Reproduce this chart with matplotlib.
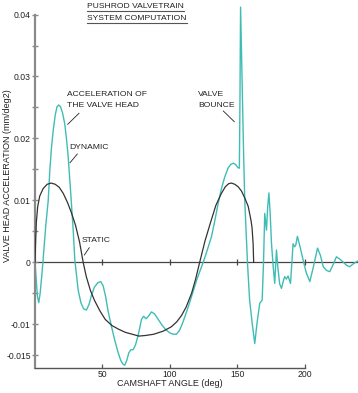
import matplotlib
matplotlib.use("Agg")
import matplotlib.pyplot as plt
from matplotlib.lines import Line2D

plt.rcParams["font.family"] = ["Liberation Sans", "DejaVu Sans"]

# static (kinematic) valve acceleration
static_deg = [0, 0.4, 1.0, 2, 3.5, 6, 9, 12, 15, 18, 21, 24, 27, 30, 33, 35.7,
              38, 41, 44, 48, 52, 57, 62, 67, 72, 77, 82, 88, 95, 101, 105,
              108.5, 112, 116, 119, 122, 126, 130, 134, 138, 141, 143.5, 145.6,
              148, 150.5, 153, 155.4, 158, 160, 160.8, 161.6, 162]
static_acc = [0, 0.003, 0.0065, 0.009, 0.0107, 0.0119, 0.0126, 0.0128, 0.0126,
              0.0121, 0.0111, 0.0097, 0.008, 0.006, 0.0033, 0.0, -0.0023,
              -0.0045, -0.0061, -0.0078, -0.0092, -0.0102, -0.0108, -0.0113,
              -0.0116, -0.0119, -0.0118, -0.0116, -0.0111, -0.0104, -0.0096,
              -0.0086, -0.0072, -0.005, -0.0027, 0.0, 0.0035, 0.0064, 0.0092,
              0.0111, 0.0122, 0.0127, 0.0128, 0.0126, 0.0122, 0.0115, 0.0104,
              0.009, 0.0068, 0.0056, 0.003, 0.0]

# dynamic valve acceleration
dyn_deg = [0, 0.8, 1.8, 2.8, 3.8, 5, 6, 7, 8, 9, 9.8, 11, 12.2, 13.5, 15, 16.3,
           17.6, 18.9, 20.3, 22, 23.3, 24.6, 26.3, 28.3, 29.5, 32, 34, 36, 38.1,
           40, 42, 44, 46.5, 48.7, 50.5, 52.3, 54, 56.5, 59, 61.5, 63.5, 65,
           66.5, 68, 69.5, 71, 72.7, 74.5, 76.4, 78.9, 80.5, 82.3, 84, 86.3,
           88.5, 91, 94, 97, 100, 102.5, 104.8, 107, 109, 111, 113.5, 116, 120,
           124.6, 127.5, 130.7, 133, 135.7, 138, 140.6, 143, 145, 146.8, 148.6,
           150.3, 151.4, 151.8, 152.3, 152.8, 153.5, 154.5, 155.4, 157.4, 159,
           161, 162.8, 164.5, 166.5, 168.3, 169.3, 170.2, 171.5, 172.4, 173.3,
           174.2, 175.2, 176.4, 177.6, 178.9, 180, 181.3, 182.6, 184, 185,
           186.2, 187.5, 189.3, 191.2, 192.3, 193.2, 194.4, 196.5, 198.6, 201,
           203.6, 206.5, 209.3, 211.5, 213.5, 216, 218.4, 221, 223.3, 226,
           228.5, 231, 233.2, 236, 239]
dyn_acc = [0.0, -0.0025, -0.0055, -0.0065, -0.005, -0.0022, 0.0004, 0.0033,
           0.006, 0.0082, 0.01, 0.0149, 0.0185, 0.0213, 0.0238, 0.0251, 0.0254,
           0.0251, 0.0242, 0.0224, 0.02, 0.017, 0.0117, 0.0052, 0.0004,
           -0.0045, -0.0065, -0.0075, -0.0077, -0.0068, -0.0052, -0.004,
           -0.0033, -0.0031, -0.0038, -0.0055, -0.0077, -0.0102, -0.0125,
           -0.0145, -0.0158, -0.0164, -0.0166, -0.0158, -0.0146, -0.0141,
           -0.0141, -0.0133, -0.0118, -0.0092, -0.0087, -0.0091, -0.0087,
           -0.008, -0.0083, -0.0091, -0.0101, -0.0109, -0.0114, -0.0116,
           -0.0116, -0.011, -0.01, -0.0088, -0.0072, -0.0055, -0.0027, 0.0,
           0.0019, 0.0041, 0.0065, 0.0095, 0.0118, 0.0138, 0.0152, 0.0158,
           0.016, 0.0158, 0.0153, 0.0152, 0.025, 0.0412, 0.036, 0.028, 0.018,
           0.01, 0.0, -0.0061, -0.01, -0.0131, -0.0098, -0.0066, -0.0061, 0.0,
           0.0079, 0.0052, 0.009, 0.0112, 0.008, 0.0031, -0.0005, -0.0034,
           0.002, -0.001, -0.0035, -0.0042, -0.003, -0.0023, -0.0027, -0.0022,
           -0.0034, 0.003, 0.0025, 0.0028, 0.0042, 0.0024, 0.0004, -0.0017,
           -0.0031, -0.0005, 0.0023, 0.0011, -0.0007, -0.0013, -0.0015,
           -0.0003, 0.0009, 0.0005, 0.0, -0.0005, -0.0007, -0.0002, 0.0002]

x_ticks = [50, 100, 150, 200]
y_ticks = [0.04, 0.035, 0.03, 0.025, 0.02, 0.015, 0.01, 0.005, 0, -0.005, -0.01, -0.015]
y_tick_labels = ["0.04", "", "0.03", "", "0.02", "", "0.01", "", "0", "", "-0.01", "-0.015"]

W, H = 358, 393
TEAL = "#3fbdb5"
DARK = "#222222"
GREY = "#8a8a8a"

fig = plt.figure(figsize=(W / 100, H / 100), dpi=100)
ax = fig.add_axes([35 / W, 1 - 368.3 / H, 322.6 / W, 367.4 / H])
ax.set_xlim(0, 239)
ax.set_ylim(-0.0171, 0.0422)
ax.patch.set_alpha(0)

# zero line with small ticks
ax.axhline(0, color="#444444", lw=0.9, zorder=1)
ax.plot(x_ticks, [0] * len(x_ticks), "|", color="#444444", ms=4, mew=0.9)

ax.plot(static_deg, static_acc, color="#333333", lw=0.9, zorder=3)
ax.plot(dyn_deg, dyn_acc, color=TEAL, lw=1.0, zorder=2)

for s in ["top", "right"]:
    ax.spines[s].set_visible(False)
ax.spines["left"].set_color(GREY)
ax.spines["left"].set_linewidth(1.6)
ax.spines["left"].set_bounds(-0.0171, 0.04)
ax.spines["bottom"].set_color("#555555")
ax.spines["bottom"].set_linewidth(1.0)
ax.spines["bottom"].set_bounds(0, 200)

ax.set_yticks(y_ticks)
ax.set_yticklabels(y_tick_labels)
ax.set_xticks(x_ticks)
ax.tick_params(axis="y", direction="inout", length=5, width=1, color=GREY,
               labelsize=6.2, labelcolor=DARK, pad=0.5)
ax.tick_params(axis="x", direction="in", length=3, width=0.9, color="#555555",
               labelsize=6.2, labelcolor=DARK, pad=1.5)


def px(x, y):
    return x / W, 1 - y / H


txt = dict(fontsize=6.1, color=DARK, va="center", ha="left")

# title, underlined
t1 = fig.text(*px(87, 6.5), "PUSHROD VALVETRAIN", **txt)
t2 = fig.text(*px(87, 18.5), "SYSTEM COMPUTATION", **txt)
fig.canvas.draw()
r = fig.canvas.get_renderer()
for t, yy in [(t1, 10.5), (t2, 22.5)]:
    bb = t.get_window_extent(r)
    fig.add_artist(Line2D([bb.x0 / W, bb.x1 / W], [1 - yy / H] * 2,
                          color="#555555", lw=0.8))

fig.text(*px(67, 94.3), "ACCELERATION OF", **txt)
fig.text(*px(67, 105.3), "THE VALVE HEAD", **txt)
fig.text(*px(69.3, 147.3), "DYNAMIC", **txt)
fig.text(*px(81.7, 241), "STATIC", **txt)
fig.text(*px(198.3, 94.3), "VALVE", **txt)
fig.text(*px(198.3, 105.3), "BOUNCE", **txt)

# leader lines
for (x0, y0), (x1, y1) in [((79, 113.3), (67.7, 124.3)),
                           ((77.3, 154), (70, 162.7)),
                           ((89.3, 247.7), (84.3, 255)),
                           ((223.3, 111), (234.3, 121.7))]:
    a, b = px(x0, y0)
    c, d = px(x1, y1)
    fig.add_artist(Line2D([a, c], [b, d], color=DARK, lw=0.6))

fig.text(*px(8, 176), "VALVE HEAD ACCELERATION (mm/deg2)", fontsize=6.5,
         color=DARK, rotation=90, ha="center", va="center")
fig.text(*px(169.7, 383.3), "CAMSHAFT ANGLE (deg)", fontsize=6.5,
         color=DARK, ha="center", va="center")

fig.savefig("out.png", dpi=100)
